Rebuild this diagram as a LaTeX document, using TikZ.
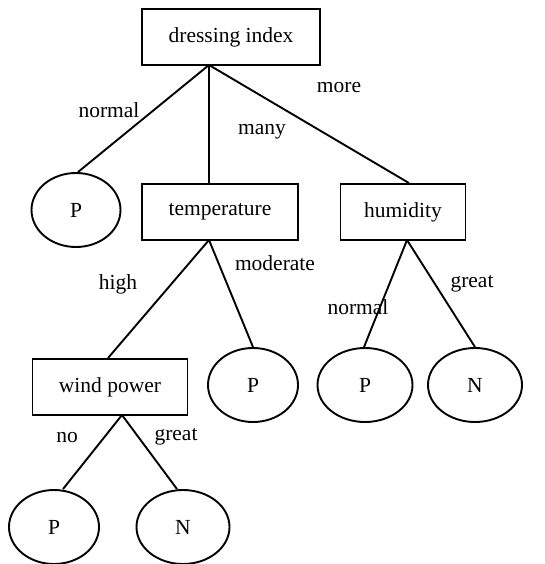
\documentclass[tikz,border=0pt]{standalone}
\usepackage{fontspec}
\setmainfont{Liberation Serif}
\usetikzlibrary{shapes.geometric}
\begin{document}
\begin{tikzpicture}[x=1pt,y=-1pt,
  every node/.style={font=\fontsize{21.5}{25}\selectfont},
  box/.style={draw,line width=1.9pt,rectangle,inner sep=0pt,minimum height=56pt},
  leaf/.style={draw,line width=1.9pt,ellipse,inner sep=0pt,minimum width=90pt,minimum height=74pt},
  edge/.style={line width=1.9pt},
  lbl/.style={inner sep=0pt}]
\useasboundingbox (0,0) rectangle (545,564);
\fill[white] (0,0) rectangle (545,564);
% nodes
\node[box,minimum width=178pt] (root) at (231,37) {dressing index};
\node[leaf,minimum width=89pt] (p1) at (76,210) {P};
\node[box,minimum width=156pt] (temp) at (220,212) {temperature};
\node[box,minimum width=125pt] (hum) at (403,212) {humidity};
\node[box,minimum width=155pt] (wind) at (110,387) {wind power};
\node[leaf] (p2) at (253,385) {P};
\node[leaf,minimum width=95pt] (p3) at (365,385) {P};
\node[leaf,minimum width=94pt] (n1) at (475,385) {N};
\node[leaf] (p4) at (54,527) {P};
\node[leaf,minimum width=93pt] (n2) at (183,527) {N};
% branch points
\coordinate (rb) at (209,65);
\coordinate (tb) at (209,240);
\coordinate (hb) at (407,240);
\coordinate (wb) at (122,415);
% edges
\draw[edge] (rb) -- ([xshift=2pt]p1.north);
\draw[edge] (rb) -- (rb |- temp.north);
\draw[edge] (rb) -- ([xshift=6pt]hum.north);
\draw[edge] (tb) -- ([xshift=-2pt]wind.north);
\draw[edge] (tb) -- (p2.north);
\draw[edge] (hb) -- ([xshift=-1pt]p3.north);
\draw[edge] (hb) -- (n1.north);
\draw[edge] (wb) -- ([xshift=9pt]p4.north);
\draw[edge] (wb) -- ([xshift=-6pt]n2.north);
% labels
\node[lbl] (l1) at (109,110) {normal};
\node[lbl] (l2) at (262,132) {many};
\node[lbl] (l3) at (339,88) {more};
\node[lbl] (l4) at (118,284) {high};
\node[lbl] (l5) at (275,263) {moderate};
\node[lbl] (l6) at (358,307) {normal};
\node[lbl] (l7) at (472,284) {great};
\node[lbl] (l8) at (67,438) {no};
\node[lbl] (l9) at (176,437) {great};
\end{tikzpicture}
\end{document}
